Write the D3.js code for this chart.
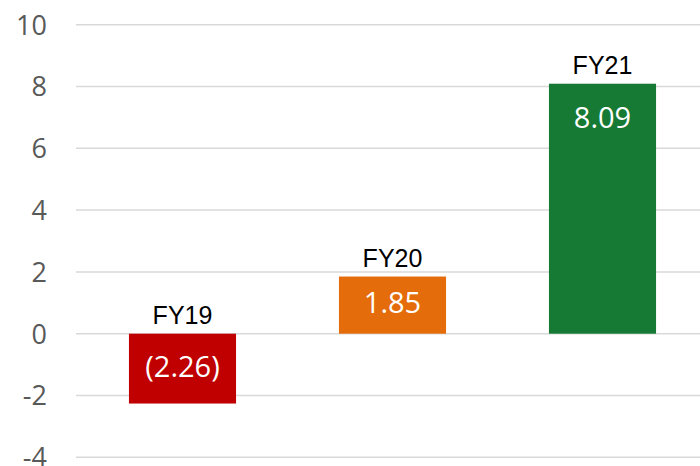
<!DOCTYPE html>
<html lang="en">
<head>
  <meta charset="UTF-8">
  <title>FY Bars</title>
  <style>
    body { margin: 0; background: #fff; }
    svg { display: block; }
  </style>
  <script src="https://cdn.jsdelivr.net/npm/d3@7"></script>
</head>
<body>
<script>
  // chart data
  const years = ["FY19", "FY20", "FY21"];
  const values = [-2.26, 1.85, 8.09];
  const valueLabels = ["(2.26)", "1.85", "8.09"];
  const barColors = ["#C00000", "#E46C0A", "#167A35"];
  const yTicks = [-4, -2, 0, 2, 4, 6, 8, 10];

  const width = 700, height = 466;

  const svg = d3.select("body").append("svg")
    .attr("width", width)
    .attr("height", height);

  const x = d3.scaleBand()
    .domain(years)
    .range([77.5, 707.5])
    .paddingInner(0.49)
    .paddingOuter(0.245);

  const y = d3.scaleLinear()
    .domain([-4, 10])
    .range([457.3, 24.7]);

  // gridlines
  svg.append("g")
    .selectAll("line")
    .data(yTicks)
    .enter().append("line")
    .attr("x1", 76)
    .attr("x2", width)
    .attr("y1", d => y(d))
    .attr("y2", d => y(d))
    .attr("stroke", "#D9D9D9")
    .attr("stroke-width", 1.5);

  // y axis labels (plain hyphen for negatives, like the original)
  const yAxis = d3.axisLeft(y)
    .tickValues(yTicks)
    .tickFormat(d => String(d))
    .tickSize(0)
    .tickPadding(0);
  const axisG = svg.append("g")
    .attr("transform", "translate(47,0)")
    .call(yAxis);
  axisG.select(".domain").remove();
  axisG.selectAll("text")
    .attr("fill", "#595959")
    .attr("dy", "0.35em")
    .style("font-family", "'Open Sans', sans-serif")
    .style("font-size", "27px");

  const rows = years.map((yr, i) => ({ yr, v: values[i], lab: valueLabels[i], c: barColors[i] }));

  // bars
  svg.append("g")
    .selectAll("rect")
    .data(rows)
    .enter().append("rect")
    .attr("x", d => x(d.yr))
    .attr("width", x.bandwidth())
    .attr("y", d => y(Math.max(0, d.v)))
    .attr("height", d => Math.abs(y(d.v) - y(0)))
    .attr("fill", d => d.c);

  // value labels inside bars
  svg.append("g")
    .selectAll("text")
    .data(rows)
    .enter().append("text")
    .attr("x", d => x(d.yr) + x.bandwidth() / 2)
    .attr("y", d => {
      const top = y(Math.max(0, d.v)), bot = y(Math.min(0, d.v));
      const mid = (top + bot) / 2;
      return (bot - top > 80) ? top + 34 : mid - 2;
    })
    .attr("dy", "0.35em")
    .attr("text-anchor", "middle")
    .attr("fill", "#fff")
    .style("font-family", "'Open Sans', sans-serif")
    .style("font-size", "29px")
    .text(d => d.lab);

  // category labels above bars
  svg.append("g")
    .selectAll("text")
    .data(rows)
    .enter().append("text")
    .attr("x", d => x(d.yr) + x.bandwidth() / 2)
    .attr("y", d => y(Math.max(0, d.v)) - 10)
    .attr("text-anchor", "middle")
    .attr("fill", "#000")
    .style("font-family", "'Liberation Sans', Arial, sans-serif")
    .style("font-size", "25px")
    .text(d => d.yr);
</script>
</body>
</html>
